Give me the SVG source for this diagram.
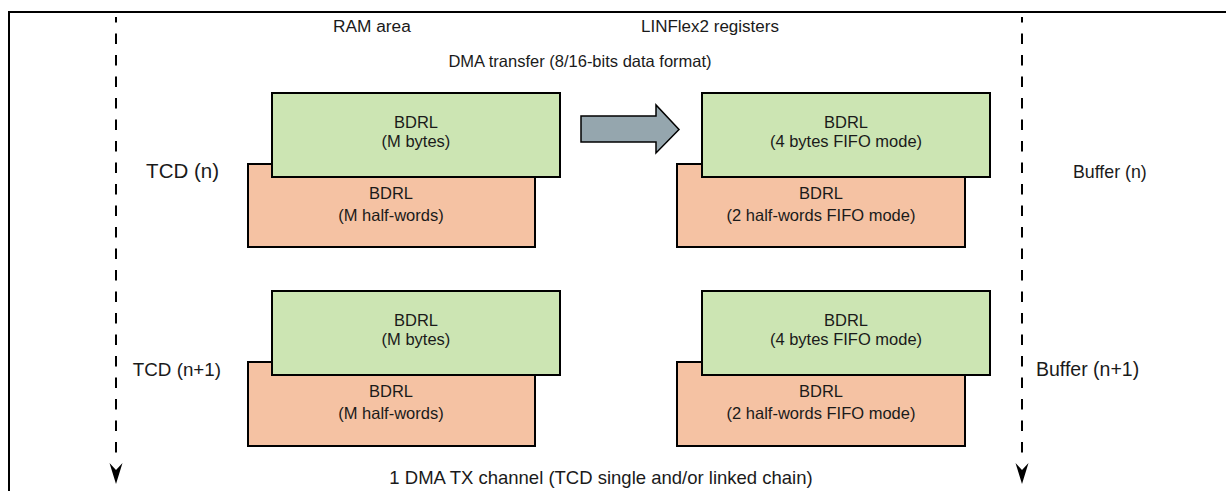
<svg xmlns="http://www.w3.org/2000/svg" width="1226" height="491" viewBox="0 0 1226 491">
  <style>
    text { font-family: "Liberation Sans", Arial, sans-serif; font-size: 16.5px; fill: #1a1a1a; }
    .mid { text-anchor: middle; }
    .end { text-anchor: end; }
    .green { fill: #cce5b3; stroke: #000; stroke-width: 2; }
    .orange { fill: #f5c2a3; stroke: #000; stroke-width: 2; }
    .frame { fill: none; stroke: #000; stroke-width: 2; }
    .dash { fill: none; stroke: #000; stroke-width: 2; stroke-dasharray: 10.5 11; stroke-dashoffset: 5; }
  </style>

  <g id="frame">
    <polyline class="frame" points="9,491 9,12 1226,12"/>
  </g>

  <g id="headers">
    <text x="333" y="32" style="font-size:17.3px">RAM area</text>
    <text x="641" y="32" style="font-size:17px">LINFlex2 registers</text>
    <text class="mid" x="580" y="67">DMA transfer (8/16-bits data format)</text>
    <text class="mid" x="601" y="484" style="font-size:18.5px">1 DMA TX channel (TCD single and/or linked chain)</text>
  </g>

  <g id="connectors">
    <line class="dash" x1="116" y1="17" x2="116" y2="463"/>
    <line class="dash" x1="1022" y1="17" x2="1022" y2="463"/>
    <path d="M116,484 L109.5,463 L116,470 L122.5,463 Z" fill="#000"/>
    <path d="M1022,484 L1015.5,463 L1022,470 L1028.5,463 Z" fill="#000"/>
    <path d="M581,116 L656,116 L656,105 L679,129.5 L656,153 L656,142 L581,142 Z" fill="#95a6ae" stroke="#000" stroke-width="1.5"/>
  </g>

  <g id="tcd-n-label"><text class="end" x="219" y="178" style="font-size:20.5px">TCD (n)</text></g>
  <g id="tcd-n1-label"><text class="end" x="221" y="376" style="font-size:18.8px">TCD (n+1)</text></g>
  <g id="buffer-n-label"><text x="1073" y="178" style="font-size:17.8px">Buffer (n)</text></g>
  <g id="buffer-n1-label"><text x="1036" y="376" style="font-size:19.5px">Buffer (n+1)</text></g>

  <g id="ram-n-half">
    <rect class="orange" x="248" y="164" width="287" height="83"/>
    <text class="mid" x="391" y="199">BDRL</text>
    <text class="mid" x="391" y="221">(M half-words)</text>
  </g>
  <g id="ram-n-bytes">
    <rect class="green" x="272" y="93" width="288" height="84"/>
    <text class="mid" x="416" y="128">BDRL</text>
    <text class="mid" x="416" y="147">(M bytes)</text>
  </g>

  <g id="reg-n-half">
    <rect class="orange" x="677" y="164" width="288" height="83"/>
    <text class="mid" x="821" y="199">BDRL</text>
    <text class="mid" x="821" y="221">(2 half-words FIFO mode)</text>
  </g>
  <g id="reg-n-bytes">
    <rect class="green" x="702" y="93" width="288" height="84"/>
    <text class="mid" x="846" y="128">BDRL</text>
    <text class="mid" x="846" y="147">(4 bytes FIFO mode)</text>
  </g>

  <g id="ram-n1-half">
    <rect class="orange" x="248" y="362" width="287" height="84"/>
    <text class="mid" x="391" y="397">BDRL</text>
    <text class="mid" x="391" y="419">(M half-words)</text>
  </g>
  <g id="ram-n1-bytes">
    <rect class="green" x="272" y="291" width="288" height="84"/>
    <text class="mid" x="416" y="326">BDRL</text>
    <text class="mid" x="416" y="345">(M bytes)</text>
  </g>

  <g id="reg-n1-half">
    <rect class="orange" x="677" y="362" width="288" height="84"/>
    <text class="mid" x="821" y="397">BDRL</text>
    <text class="mid" x="821" y="419">(2 half-words FIFO mode)</text>
  </g>
  <g id="reg-n1-bytes">
    <rect class="green" x="702" y="291" width="288" height="84"/>
    <text class="mid" x="846" y="326">BDRL</text>
    <text class="mid" x="846" y="345">(4 bytes FIFO mode)</text>
  </g>
</svg>
